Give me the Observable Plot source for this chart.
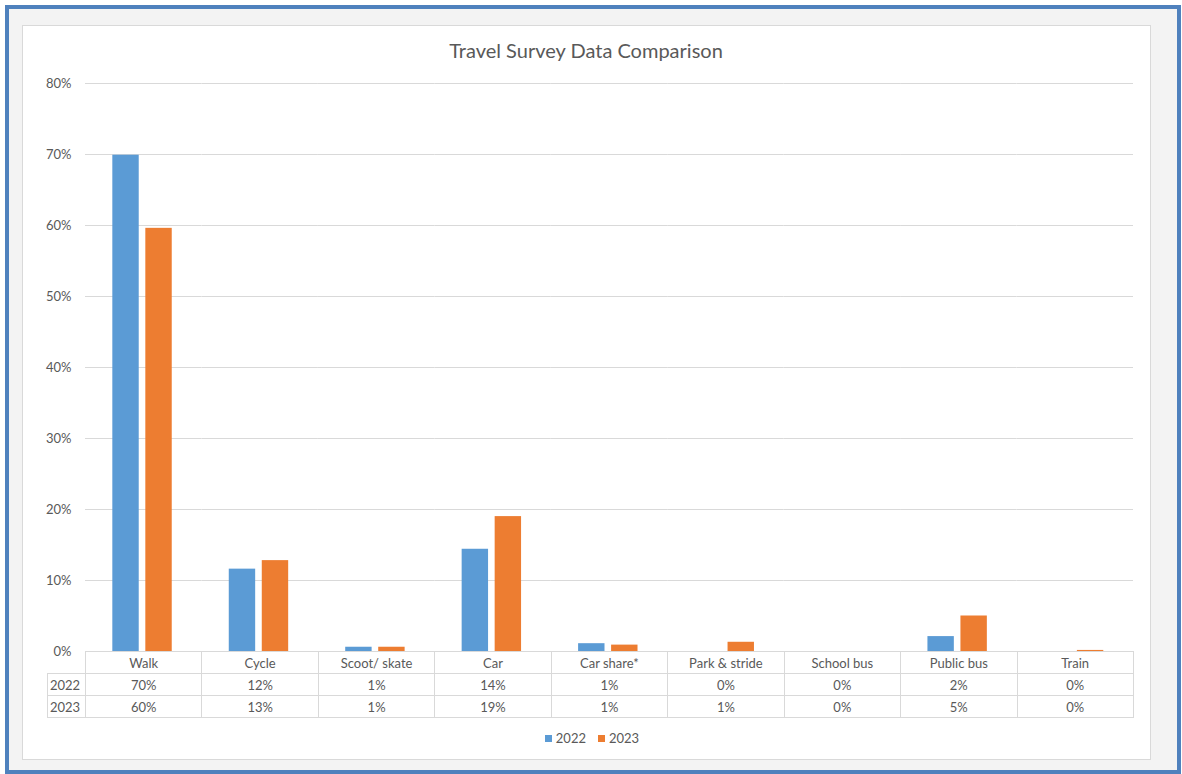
<!DOCTYPE html>
<html>
<head>
<meta charset="utf-8">
<script src="https://cdn.jsdelivr.net/npm/d3@7"></script>
<script src="https://cdn.jsdelivr.net/npm/@observablehq/plot@0.6"></script>
<style>
  html, body { margin: 0; padding: 0; background: #ffffff; }
  #root { position: relative; width: 1182px; height: 774px; font-family: Lato, "Open Sans", sans-serif; color: #595959; }
  #outer { position: absolute; left: 5px; top: 5px; width: 1176px; height: 769px; box-sizing: border-box; border: 4px solid #4f81bd; background: #f3f3f3; }
  #inner { position: absolute; left: 22px; top: 25px; width: 1129px; height: 735px; box-sizing: border-box; border: 1px solid #d9d9d9; background: #ffffff; }
  #title { position: absolute; left: 0; width: 1172px; top: 38px; text-align: center; font-size: 20px; color: #595959; }
  #chart { position: absolute; left: 22px; top: 25px; }
  #table { position: absolute; left: 47px; top: 651px; border-collapse: collapse; table-layout: fixed; font-size: 13px; color: #595959; }
  #table td { border: 1px solid #d9d9d9; height: 21px; padding: 0; text-align: center; overflow: hidden; white-space: nowrap; }
  #table td.corner { border: none; }
  #table td.yr { text-align: left; padding-left: 2px; }
  #legend { position: absolute; left: 6px; width: 1172px; top: 730px; text-align: center; font-size: 13px; color: #595959; }
  #legend span.item { display: inline-block; margin: 0 6px; }
  #legend span.key { display: inline-block; width: 7px; height: 7px; margin-right: 4px; vertical-align: 1px; }
</style>
</head>
<body>
<div id="root">
  <div id="outer"></div>
  <div id="inner"></div>
  <div id="title"></div>
  <div id="chart"></div>
  <table id="table"></table>
  <div id="legend"></div>
</div>
<script>
const title = "Travel Survey Data Comparison";
const categories = ["Walk", "Cycle", "Scoot/ skate", "Car", "Car share*", "Park & stride", "School bus", "Public bus", "Train"];
const years = ["2022", "2023"];
const values2022 = [0.699, 0.116, 0.006, 0.144, 0.011, 0, 0, 0.021, 0];
const values2023 = [0.596, 0.128, 0.006, 0.190, 0.009, 0.013, 0, 0.050, 0.0015];
const yTicks = [0, 0.1, 0.2, 0.3, 0.4, 0.5, 0.6, 0.7, 0.8];
const colors = ["#5b9bd5", "#ed7d31"];

const series = [values2022, values2023];
const rows = [];
years.forEach((yr, i) => categories.forEach((c, j) => rows.push({cat: c, year: yr, value: series[i][j]})));
const pct = d3.format(".0%");

document.getElementById("title").textContent = title;

const plot = Plot.plot({
  width: 1128,
  height: 626,
  marginLeft: 63,
  marginRight: 17,
  marginTop: 58,
  marginBottom: 0,
  style: {background: "transparent", fontFamily: "Lato, 'Open Sans', sans-serif", fontSize: "13px", color: "#595959", overflow: "visible"},
  fx: {domain: categories, paddingInner: 0, paddingOuter: 0, round: false, axis: null},
  x: {domain: years, paddingInner: 0.2, paddingOuter: 0.864, align: 0.479, round: false, axis: null},
  y: {domain: [0, 0.8], ticks: yTicks, tickFormat: pct, tickSize: 0, tickPadding: 14, label: null},
  color: {domain: years, range: colors},
  marks: [
    Plot.gridY(yTicks, {stroke: "#d9d9d9", strokeOpacity: 1, strokeWidth: 1}),
    Plot.barY(rows, {fx: "cat", x: "year", y: "value", fill: "year"}),
    Plot.ruleY([0], {stroke: "#d9d9d9", strokeWidth: 1})
  ]
});
document.getElementById("chart").appendChild(plot);

// data table below the chart
const table = document.getElementById("table");
const colW = (1133 - 85) / categories.length;
const cg = document.createElement("colgroup");
const c0 = document.createElement("col"); c0.style.width = "38px"; cg.appendChild(c0);
categories.forEach(() => { const c = document.createElement("col"); c.style.width = colW + "px"; cg.appendChild(c); });
table.appendChild(cg);
const hdr = document.createElement("tr");
const corner = document.createElement("td"); corner.className = "corner"; hdr.appendChild(corner);
categories.forEach(c => { const td = document.createElement("td"); td.textContent = c; hdr.appendChild(td); });
table.appendChild(hdr);
years.forEach((yr, i) => {
  const tr = document.createElement("tr");
  const th = document.createElement("td"); th.className = "yr"; th.textContent = yr; tr.appendChild(th);
  series[i].forEach(v => { const td = document.createElement("td"); td.textContent = pct(v); tr.appendChild(td); });
  table.appendChild(tr);
});

// legend
const legend = document.getElementById("legend");
years.forEach((yr, i) => {
  const item = document.createElement("span"); item.className = "item";
  const key = document.createElement("span"); key.className = "key"; key.style.background = colors[i];
  item.appendChild(key); item.appendChild(document.createTextNode(yr));
  legend.appendChild(item);
});
</script>
</body>
</html>
